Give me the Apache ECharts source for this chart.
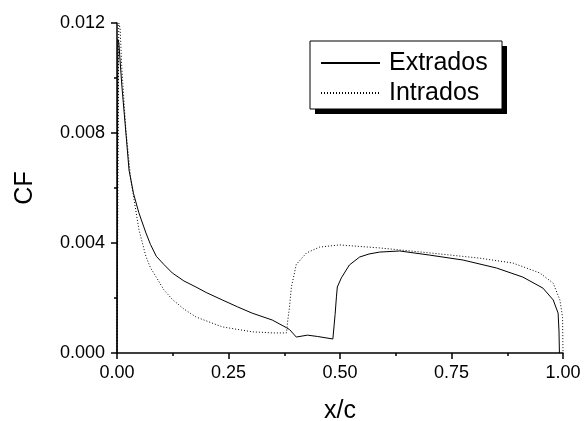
<!DOCTYPE html>
<html>
<head>
<meta charset="utf-8">
<script src="https://cdn.jsdelivr.net/npm/echarts@6/dist/echarts.min.js"></script>
<style>
  html, body { margin: 0; padding: 0; background: #fff; }
  #chart { width: 586px; height: 421px; }
</style>
</head>
<body>
<div id="chart"></div>
<script>
// x/c and CF
var extradosX = [0, 0.002, 0.004, 0.011, 0.02, 0.027, 0.037, 0.049, 0.065, 0.075, 0.088, 0.105, 0.124, 0.15, 0.177, 0.2, 0.236, 0.27, 0.303, 0.348, 0.38, 0.387,
    0.402, 0.405, 0.427, 0.45, 0.484, 0.489, 0.492, 0.494, 0.503, 0.521, 0.544, 0.565, 0.589, 0.634, 0.701, 0.776, 0.851, 0.91, 0.955, 0.978, 0.989, 0.991, 0.992];
var extradosY = [0, 0.0114, 0.0113, 0.0097, 0.008, 0.00665, 0.0058, 0.0051, 0.00436, 0.00395, 0.00352, 0.00322, 0.00291, 0.00262, 0.0024, 0.0022, 0.00193, 0.00168, 0.00145, 0.0012, 0.00092, 0.00085,
    0.00058, 0.00055, 0.00065, 0.0006, 0.00051, 0.0014, 0.00204, 0.0024, 0.00273, 0.0032, 0.00349, 0.0036, 0.00367, 0.00371, 0.00356, 0.00338, 0.00309, 0.00276, 0.00236, 0.00193, 0.00145, 0.0008, 0];

var intradosX = [0, 0.004, 0.007, 0.011, 0.02, 0.031, 0.043, 0.049, 0.065, 0.075, 0.088, 0.105, 0.124, 0.15, 0.177, 0.236, 0.303, 0.35, 0.38,
    0.383, 0.386, 0.391, 0.402, 0.425, 0.454, 0.499, 0.589, 0.701, 0.813, 0.888, 0.948, 0.978, 0.993, 0.999, 1.0];
var intradosY = [0, 0.012, 0.0118, 0.0103, 0.0081, 0.0063, 0.0051, 0.0045, 0.0035, 0.0031, 0.00276, 0.0023, 0.00195, 0.0016, 0.00131, 0.00095, 0.00077, 0.00073, 0.00073,
    0.0012, 0.00156, 0.0024, 0.00322, 0.00364, 0.00385, 0.00393, 0.00382, 0.00364, 0.00345, 0.00327, 0.00291, 0.00254, 0.00193, 0.0013, 0];

var seriesNames = ['Extrados', 'Intrados'];

function pairs (xs, ys) {
    var out = [];
    for (var i = 0; i < xs.length; i++) {
        out.push([xs[i], ys[i]]);
    }
    return out;
}

var font = 'Liberation Sans, Arial, sans-serif';
var axisColor = '#000';

var chart = echarts.init(document.getElementById('chart'));
chart.setOption({
    animation: false,
    backgroundColor: '#fff',
    textStyle: { fontFamily: font, color: '#000' },
    grid: { left: 117, right: 23, top: 23, bottom: 68, containLabel: false, outerBoundsMode: 'none' },
    graphic: [
        { type: 'rect', z: 10, shape: { x: 315, y: 46, width: 192, height: 68 }, style: { fill: '#000' } },
        { type: 'rect', z: 11, shape: { x: 310, y: 41, width: 192, height: 68 }, style: { fill: '#fff', stroke: '#000', lineWidth: 1 } }
    ],
    legend: {
        z: 20,
        orient: 'vertical',
        left: 320,
        top: 48,
        itemWidth: 59,
        itemHeight: 14,
        itemGap: 0,
        padding: 0,
        data: seriesNames,
        // hide the circle the line legend icon adds
        itemStyle: { color: 'transparent', borderColor: 'transparent', borderWidth: 0 },
        textStyle: { fontFamily: font, fontSize: 25, color: '#000', lineHeight: 30, padding: [0, 0, 0, 4] }
    },
    xAxis: {
        type: 'value',
        min: 0,
        max: 1,
        interval: 0.25,
        name: 'x/c',
        nameLocation: 'middle',
        nameGap: 46,
        nameTextStyle: { fontFamily: font, fontSize: 25, color: '#000' },
        axisLine: { lineStyle: { color: axisColor, width: 1.5 } },
        axisTick: { length: 6, lineStyle: { color: axisColor, width: 1.5 } },
        minorTick: { show: true, splitNumber: 2, length: 3, lineStyle: { color: axisColor, width: 1.5 } },
        axisLabel: {
            fontFamily: font, fontSize: 18, color: '#000', margin: 11,
            formatter: function (v) { return v.toFixed(2); }
        },
        splitLine: { show: false }
    },
    yAxis: {
        type: 'value',
        min: 0,
        max: 0.012,
        interval: 0.004,
        name: 'CF',
        nameLocation: 'middle',
        nameGap: 79,
        nameTextStyle: { fontFamily: font, fontSize: 25, color: '#000' },
        axisLine: { show: true, lineStyle: { color: axisColor, width: 1.5 } },
        axisTick: { show: true, length: 6, lineStyle: { color: axisColor, width: 1.5 } },
        minorTick: { show: true, splitNumber: 2, length: 3, lineStyle: { color: axisColor, width: 1.5 } },
        axisLabel: {
            fontFamily: font, fontSize: 18, color: '#000', margin: 12,
            formatter: function (v) { return v.toFixed(3); }
        },
        splitLine: { show: false }
    },
    series: [
        {
            name: seriesNames[0],
            type: 'line',
            data: pairs(extradosX, extradosY),
            showSymbol: false,
            symbol: 'none',
            color: '#000',
            lineStyle: { color: '#000', width: 1 },
            z: 3
        },
        {
            name: seriesNames[1],
            type: 'line',
            data: pairs(intradosX, intradosY),
            showSymbol: false,
            symbol: 'none',
            color: '#000',
            lineStyle: { color: '#000', width: 1, type: [1, 2] },
            z: 3
        }
    ]
});
</script>
</body>
</html>
